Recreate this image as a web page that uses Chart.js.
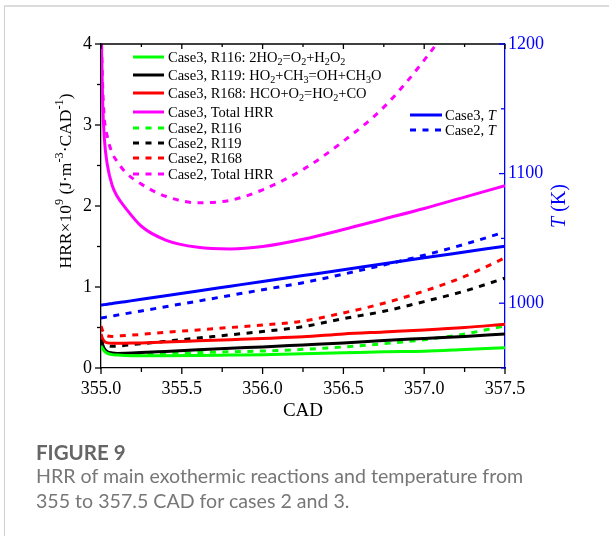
<!DOCTYPE html>
<html>
<head>
<meta charset="utf-8">
<script src="https://cdn.jsdelivr.net/npm/chart.js@4"></script>
<style>
  html, body { margin: 0; padding: 0; background: #fff; }
  body { width: 612px; height: 536px; position: relative; overflow: hidden; }
  #card { position: absolute; left: 4px; top: 5px; width: 604px; height: 560px;
          border-left: 1px solid #cfcfcf; border-top: 2px solid #dcdcdc; }
  #plot { position: absolute; left: 0; top: 0; }
  .cap { position: absolute; left: 36px; font-family: Lato, "Open Sans", sans-serif; }
  #figTitle { top: 440px; font-size: 20.5px; line-height: 24px; font-weight: 700; color: #666; }
  #figText { top: 463px; font-size: 19.6px; line-height: 25px; color: #777; width: 570px; }
</style>
</head>
<body>
<div id="card"></div>
<canvas id="plot" width="612" height="536"></canvas>
<div class="cap" id="figTitle">FIGURE 9</div>
<div class="cap" id="figText">HRR of main exothermic reactions and temperature from<br>355 to 357.5 CAD for cases 2 and 3.</div>
<script>
// Crank angle samples (CAD)
const cad = [355.0, 355.01, 355.02, 355.04, 355.07, 355.1, 355.15, 355.25, 355.4, 355.6,
             355.8, 356.0, 356.25, 356.5, 356.75, 357.0, 357.25, 357.5];

// Heat release rates, x10^9 J/(m^3 CAD)
const case3R116  = [0.27, 0.24, 0.21, 0.18, 0.165, 0.16, 0.155, 0.152, 0.152, 0.155,
                    0.16, 0.165, 0.175, 0.187, 0.20, 0.207, 0.228, 0.25];
const case3R119  = [0.34, 0.29, 0.24, 0.20, 0.185, 0.18, 0.182, 0.19, 0.205, 0.225,
                    0.245, 0.26, 0.285, 0.31, 0.34, 0.365, 0.39, 0.42];
const case3R168  = [0.42, 0.36, 0.33, 0.31, 0.305, 0.305, 0.307, 0.31, 0.32, 0.335,
                    0.35, 0.365, 0.385, 0.42, 0.445, 0.47, 0.50, 0.54];
const case3Total = [4.3, 3.3, 2.85, 2.5, 2.25, 2.12, 1.98, 1.75, 1.58, 1.49,
                    1.47, 1.50, 1.59, 1.71, 1.84, 1.97, 2.11, 2.25];
const case2R116  = [0.28, 0.25, 0.22, 0.19, 0.175, 0.17, 0.17, 0.172, 0.18, 0.19,
                    0.20, 0.21, 0.23, 0.26, 0.30, 0.35, 0.42, 0.52];
const case2R119  = [0.37, 0.33, 0.30, 0.28, 0.27, 0.27, 0.28, 0.30, 0.33, 0.37,
                    0.41, 0.45, 0.51, 0.61, 0.70, 0.82, 0.95, 1.11];
const case2R168  = [0.52, 0.46, 0.42, 0.395, 0.39, 0.395, 0.40, 0.415, 0.44, 0.47,
                    0.50, 0.53, 0.58, 0.68, 0.80, 0.95, 1.13, 1.36];
const case2Total = [4.3, 3.5, 3.1, 2.85, 2.65, 2.55, 2.42, 2.27, 2.12, 2.04,
                    2.07, 2.20, 2.45, 2.80, 3.22, 3.80, 4.50, 5.30];

// In-cylinder temperature, K
const case3T = [998.5, 998.7, 998.9, 999.2, 999.8, 1000.3, 1001.2, 1003.0, 1005.8, 1009.4,
                1013.1, 1016.8, 1021.3, 1025.8, 1030.4, 1035.0, 1039.5, 1044.0];
const case2T = [988.6, 988.8, 989.0, 989.5, 990.1, 990.8, 991.9, 994.0, 997.3, 1001.6,
                1006.0, 1010.4, 1015.8, 1022.4, 1029.5, 1037.0, 1045.5, 1055.0];

// Axis ticks
const xTicks = [355.0, 355.5, 356.0, 356.5, 357.0, 357.5];
const xMinorTicks = [355.25, 355.75, 356.25, 356.75, 357.25];
const hrrTicks = [0, 1, 2, 3, 4];
const hrrMinorTicks = [0.5, 1.5, 2.5, 3.5];
const tempTicks = [1000, 1100, 1200];
const tempMinorTicks = [950, 1050, 1150];

// Legend labels (_{..} subscript, ^{..} superscript, *..* italic)
const labels = [
  'Case3, R116: 2HO_{2}=O_{2}+H_{2}O_{2}',
  'Case3, R119: HO_{2}+CH_{3}=OH+CH_{3}O',
  'Case3, R168: HCO+O_{2}=HO_{2}+CO',
  'Case3, Total HRR',
  'Case2, R116',
  'Case2, R119',
  'Case2, R168',
  'Case2, Total HRR',
  'Case3, *T*',
  'Case2, *T*'
];

const GREEN = '#00ff00', BLACK = '#000000', RED = '#ff0000', MAGENTA = '#ff00ff', BLUE = '#0000ff';
const DASH = [6, 6.5];
const SERIF = '"Liberation Serif", "Times New Roman", serif';

function series(label, values, color, dashed, axis) {
  return {
    label,
    data: cad.map((x, i) => ({ x, y: values[i] })),
    borderColor: color,
    backgroundColor: color,
    borderWidth: 3,
    borderDash: dashed ? DASH : [],
    pointRadius: 0,
    fill: false,
    cubicInterpolationMode: 'monotone',
    yAxisID: axis
  };
}

const datasets = [
  series(labels[0], case3R116, GREEN, false, 'y'),
  series(labels[1], case3R119, BLACK, false, 'y'),
  series(labels[2], case3R168, RED, false, 'y'),
  series(labels[3], case3Total, MAGENTA, false, 'y'),
  series(labels[4], case2R116, GREEN, true, 'y'),
  series(labels[5], case2R119, BLACK, true, 'y'),
  series(labels[6], case2R168, RED, true, 'y'),
  series(labels[7], case2Total, MAGENTA, true, 'y'),
  series(labels[8], case3T, BLUE, false, 'yT'),
  series(labels[9], case2T, BLUE, true, 'yT')
];

// Rich text: split into runs with sub/sup/italic flags
function parseRich(str) {
  const runs = [];
  let italic = false, i = 0, buf = '';
  const flush = () => { if (buf) { runs.push({ t: buf, mode: 'n', italic }); buf = ''; } };
  while (i < str.length) {
    const c = str[i];
    if ((c === '_' || c === '^') && str[i + 1] === '{') {
      flush();
      const end = str.indexOf('}', i);
      runs.push({ t: str.slice(i + 2, end), mode: c === '_' ? 'sub' : 'sup', italic });
      i = end + 1;
    } else if (c === '*') {
      flush(); italic = !italic; i++;
    } else { buf += c; i++; }
  }
  flush();
  return runs;
}

function runFont(run, size) {
  const s = run.mode === 'n' ? size : size * 0.7;
  return (run.italic ? 'italic ' : '') + s + 'px ' + SERIF;
}

function drawRich(ctx, str, x, cy, size, color, align) {
  const runs = parseRich(str);
  let w = 0;
  runs.forEach(r => { ctx.font = runFont(r, size); r.w = ctx.measureText(r.t).width; w += r.w; });
  let cx = align === 'center' ? x - w / 2 : x;
  const base = cy + size * 0.33;
  ctx.fillStyle = color;
  ctx.textBaseline = 'alphabetic';
  ctx.textAlign = 'left';
  runs.forEach(r => {
    ctx.font = runFont(r, size);
    let by = base;
    if (r.mode === 'sub') by = base + size * 0.22;
    if (r.mode === 'sup') by = base - size * 0.42;
    ctx.fillText(r.t, cx, by);
    cx += r.w;
  });
}

const decor = {
  id: 'decor',
  afterDraw(chart) {
    const ctx = chart.ctx;
    const a = chart.chartArea;
    const sx = chart.scales.x, sy = chart.scales.y, sT = chart.scales.yT;
    ctx.save();

    const seg = (x1, y1, x2, y2) => { ctx.beginPath(); ctx.moveTo(x1, y1); ctx.lineTo(x2, y2); ctx.stroke(); };

    // frame top
    ctx.strokeStyle = BLACK; ctx.lineWidth = 1.3;
    seg(a.left, a.top, a.right, a.top);

    // x ticks: outward at bottom, inward at top
    xTicks.forEach(v => { const p = sx.getPixelForValue(v); seg(p, a.bottom, p, a.bottom + 6); seg(p, a.top, p, a.top + 5); });
    xMinorTicks.forEach(v => { const p = sx.getPixelForValue(v); seg(p, a.bottom, p, a.bottom + 4); seg(p, a.top, p, a.top + 3); });

    // left HRR ticks, outward
    hrrTicks.forEach(v => { const p = sy.getPixelForValue(v); seg(a.left - 6, p, a.left, p); });
    hrrMinorTicks.forEach(v => { const p = sy.getPixelForValue(v); seg(a.left - 4, p, a.left, p); });

    // right temperature ticks, inward
    ctx.strokeStyle = BLUE;
    tempTicks.forEach(v => { const p = sT.getPixelForValue(v); seg(a.right - 6, p, a.right, p); });
    tempMinorTicks.forEach(v => { const p = sT.getPixelForValue(v); seg(a.right - 4, p, a.right, p); });

    // axis titles
    drawRich(ctx, 'CAD', (a.left + a.right) / 2, 410, 19, BLACK, 'center');
    ctx.save();
    ctx.translate(65, 181);
    ctx.rotate(-Math.PI / 2);
    drawRich(ctx, 'HRR×10^{9} (J·m^{-3}·CAD^{-1})', 0, 0, 17.5, BLACK, 'center');
    ctx.restore();
    ctx.save();
    ctx.translate(558, (a.top + a.bottom) / 2);
    ctx.rotate(-Math.PI / 2);
    drawRich(ctx, '*T* (K)', 0, 0, 20, BLUE, 'center');
    ctx.restore();

    // legends
    const drawEntry = (ds, x0, x1, y, tx) => {
      ctx.strokeStyle = ds.borderColor;
      ctx.lineWidth = 3;
      ctx.setLineDash(ds.borderDash);
      seg(x0, y, x1, y);
      ctx.setLineDash([]);
      drawRich(ctx, ds.label, tx, y, 14.5, BLACK, 'left');
    };
    const rows1 = [57, 75, 93, 112, 128, 143, 158, 174];
    for (let i = 0; i < 8; i++) drawEntry(chart.data.datasets[i], 133, 164, rows1[i], 168);
    const rows2 = [115, 130];
    for (let i = 0; i < 2; i++) drawEntry(chart.data.datasets[8 + i], 410, 442, rows2[i], 445);

    ctx.restore();
  }
};

const tickFont = { family: SERIF, size: 18 };

new Chart(document.getElementById('plot'), {
  type: 'line',
  data: { datasets },
  options: {
    responsive: false,
    animation: false,
    devicePixelRatio: 1,
    layout: { padding: { top: 44, left: 0, right: 0, bottom: 0 } },
    plugins: { legend: { display: false }, tooltip: { enabled: false } },
    scales: {
      x: {
        type: 'linear', position: 'bottom', min: 355, max: 357.5,
        afterBuildTicks: s => { s.ticks = xTicks.map(v => ({ value: v })); },
        afterFit: s => { s.height = 168; },
        grid: { display: false, drawTicks: false },
        border: { display: true, color: BLACK, width: 1.3 },
        ticks: { padding: 10, color: BLACK, font: tickFont, maxRotation: 0, autoSkip: false,
                 callback: v => Number(v).toFixed(1) }
      },
      y: {
        type: 'linear', position: 'left', min: 0, max: 4,
        afterBuildTicks: s => { s.ticks = hrrTicks.map(v => ({ value: v })); },
        afterFit: s => { s.width = 101; },
        grid: { display: false, drawTicks: false },
        border: { display: true, color: BLACK, width: 1.3 },
        ticks: { padding: 9, color: BLACK, font: tickFont, callback: v => String(v) }
      },
      yT: {
        type: 'linear', position: 'right', min: 950, max: 1200,
        afterBuildTicks: s => { s.ticks = tempTicks.map(v => ({ value: v })); },
        afterFit: s => { s.width = 107; },
        grid: { display: false, drawTicks: false },
        border: { display: true, color: BLUE, width: 1.3 },
        ticks: { padding: 3, color: BLUE, font: tickFont, callback: v => String(v) }
      }
    }
  },
  plugins: [decor]
});
</script>
</body>
</html>
